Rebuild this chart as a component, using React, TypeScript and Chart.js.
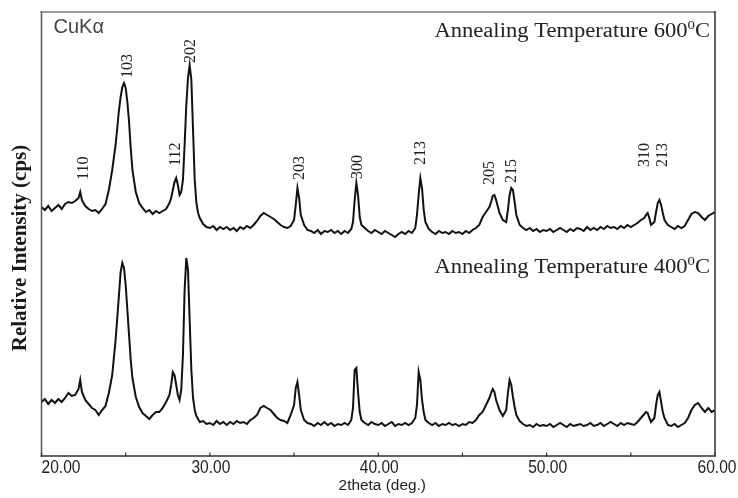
import React, { useEffect, useRef } from "react";
import { Chart, registerables } from "chart.js";
Chart.register(...registerables);

// 2theta (deg.) sampling positions
const twoTheta = [
  20.0, 20.2, 20.4, 20.6, 20.8,
  21.0, 21.2, 21.4, 21.6, 21.8,
  22.0, 22.2, 22.3, 22.4, 22.6, 22.8,
  23.0, 23.2, 23.4, 23.6, 23.8,
  24.0, 24.2, 24.4, 24.5, 24.6, 24.7, 24.8, 24.9,
  25.0, 25.1, 25.2, 25.3, 25.4, 25.6, 25.8,
  26.0, 26.2, 26.4, 26.6, 26.8,
  27.0, 27.2, 27.4, 27.6, 27.7, 27.8, 27.9,
  28.0, 28.1, 28.2, 28.3, 28.4, 28.5, 28.6, 28.7, 28.8, 28.9,
  29.0, 29.1, 29.2, 29.3, 29.4, 29.6, 29.8,
  30.0, 30.2, 30.4, 30.6, 30.8,
  31.0, 31.2, 31.4, 31.6, 31.8,
  32.0, 32.2, 32.4, 32.6, 32.8,
  33.0, 33.2, 33.4, 33.6, 33.8,
  34.0, 34.2, 34.4, 34.6, 34.8,
  35.0, 35.1, 35.2, 35.3, 35.4, 35.6, 35.8,
  36.0, 36.2, 36.4, 36.6, 36.8,
  37.0, 37.2, 37.4, 37.6, 37.8,
  38.0, 38.2, 38.4, 38.5, 38.6, 38.7, 38.8, 38.9,
  39.0, 39.2, 39.4, 39.6, 39.8,
  40.0, 40.2, 40.4, 40.6, 40.8,
  41.0, 41.2, 41.4, 41.6, 41.8,
  42.0, 42.2, 42.3, 42.4, 42.5, 42.6, 42.7, 42.8,
  43.0, 43.2, 43.4, 43.6, 43.8,
  44.0, 44.2, 44.4, 44.6, 44.8,
  45.0, 45.2, 45.4, 45.6, 45.8,
  46.0, 46.2, 46.4, 46.6, 46.7, 46.8, 46.9,
  47.0, 47.2, 47.4, 47.6, 47.7, 47.8, 47.9,
  48.0, 48.1, 48.2, 48.4, 48.6, 48.8,
  49.0, 49.2, 49.4, 49.6, 49.8,
  50.0, 50.2, 50.4, 50.6, 50.8,
  51.0, 51.2, 51.4, 51.6, 51.8,
  52.0, 52.2, 52.4, 52.6, 52.8,
  53.0, 53.2, 53.4, 53.6, 53.8,
  54.0, 54.2, 54.4, 54.6, 54.8,
  55.0, 55.2, 55.4, 55.6, 55.8, 55.9,
  56.0, 56.1, 56.2, 56.4, 56.5, 56.6, 56.7, 56.8, 56.9,
  57.0, 57.2, 57.4, 57.6, 57.8,
  58.0, 58.2, 58.4, 58.6, 58.8,
  59.0, 59.2, 59.4, 59.6, 59.8,
  60.0,
];

// Relative intensity, 600 °C anneal (offset trace)
const intensity600 = [
  249, 246, 250, 245, 248,
  251, 247, 252, 254, 253,
  255, 258, 264, 256, 250, 247,
  245, 246, 243, 247, 252,
  266, 286, 311, 328, 346, 359, 369, 373,
  368, 354, 334, 308, 286, 264, 253,
  248, 244, 246, 242, 245,
  243, 245, 247, 253, 258, 266, 274,
  278, 271, 261, 264, 276, 311, 351, 378, 391, 376,
  326, 276, 253, 243, 238, 232, 229,
  228, 230, 226, 229, 227,
  229, 226, 228, 225, 229,
  227, 230, 228, 231, 235,
  240, 243, 241, 239, 237,
  234, 231, 229, 228, 230,
  236, 251, 268, 258, 241, 231, 226,
  225, 223, 226, 222, 225,
  224, 226, 223, 225, 222,
  225, 223, 227, 234, 256, 273, 261, 239,
  231, 228, 225, 223, 226,
  224, 222, 225, 223, 221,
  219, 222, 224, 222, 225,
  223, 228, 241, 261, 278, 268, 246, 234,
  227, 224, 222, 225, 223,
  224, 222, 225, 223, 224,
  222, 225, 223, 226, 228,
  231, 239, 244, 249, 254, 260, 261,
  256, 243, 236, 234, 246, 261, 268,
  266, 254, 241, 231, 228, 226,
  228, 225, 227, 224, 226,
  225, 227, 224, 226, 228,
  226, 224, 227, 225, 228,
  227, 225, 229, 226, 228,
  226, 229, 227, 230, 228,
  229, 227, 230, 228, 231,
  229, 231, 233, 236, 238, 241,
  243, 238, 231, 234, 244, 253, 256, 251, 243,
  236, 231, 229, 227, 230,
  228, 230, 236, 242, 244,
  243, 239, 236, 240, 242,
  244,
];

// Relative intensity, 400 °C anneal
const intensity400 = [
  54, 57, 52, 56, 53,
  57, 54, 58, 63, 60,
  61, 67, 76, 64, 56, 52,
  48, 46, 41, 46, 50,
  63, 81, 116, 138, 161, 184, 193, 188,
  171, 146, 121, 96, 78, 59, 49,
  43, 40, 37, 41, 44,
  44, 48, 54, 61, 71, 84, 81,
  71, 61, 56, 66, 101, 166, 198, 186, 136, 86,
  58, 46, 40, 37, 34, 35, 32,
  33, 31, 35, 32, 34,
  31, 34, 32, 35, 33,
  34, 32, 36, 38, 41,
  48, 50, 48, 46, 42,
  38, 36, 35, 33, 41,
  51, 68, 74, 61, 46, 36, 33,
  32, 30, 33, 31, 34,
  31, 33, 30, 32, 31,
  33, 31, 36, 48, 86, 88, 64, 44,
  36, 33, 31, 34, 32,
  31, 33, 30, 32, 34,
  30, 32, 31, 33, 31,
  33, 38, 51, 84, 76, 56, 44, 36,
  33, 31, 33, 30, 32,
  31, 33, 31, 32, 30,
  32, 31, 34, 33, 36,
  41, 44, 51, 58, 63, 67, 64,
  56, 46, 40, 46, 63, 76, 71,
  59, 49, 41, 35, 32, 30,
  31, 29, 32, 30, 31,
  30, 32, 29, 31, 33,
  31, 29, 32, 30, 31,
  32, 30, 31, 33, 30,
  31, 33, 30, 32, 34,
  32, 30, 33, 31, 33,
  32, 31, 34, 38, 42, 44,
  43, 38, 34, 38, 51, 61, 64, 54, 44,
  38, 31, 30, 32, 29,
  31, 33, 38, 46, 51,
  53, 48, 44, 48, 44,
  46,
];

const xTicks = [20, 25, 30, 35, 40, 45, 50, 55, 60];
const xTickLabels = ["20.00", "30.00", "40.00", "50.00", "60.00"];
const xLabeledTicks = [20, 30, 40, 50, 60];

// Miller-index annotations: name, 2theta of label, intensity where label starts
const peakNames = ["110", "103", "112", "202", "203", "300", "213", "205", "215", "310", "213"];
const peakAngles = [22.51, 25.13, 27.98, 28.87, 35.33, 38.78, 42.52, 46.62, 47.93, 55.85, 56.88];
const peakLabelBase = [276, 378, 290, 393, 276, 277, 291, 271, 273, 289, 289];

const traceTitles = ["Annealing Temperature 600", "Annealing Temperature 400"];
const traceTitleValue = [419, 183];

const SERIF = '"Liberation Serif", "Times New Roman", serif';
const SANS = '"Liberation Sans", Arial, sans-serif';

function drawText(ctx: CanvasRenderingContext2D, s: string, px: number, py: number, font: string, align: CanvasTextAlign, color: string, sx = 1) {
  ctx.save();
  ctx.translate(px, py);
  ctx.scale(sx, 1);
  ctx.font = font;
  ctx.textAlign = align;
  ctx.textBaseline = "alphabetic";
  ctx.fillStyle = color;
  ctx.fillText(s, 0, 0);
  ctx.restore();
}

const decor = {
  id: "decor",
  afterDraw(chart: any) {
    const { ctx, chartArea: a, scales } = chart;
    const xs = scales.x;
    const ys = scales.y;
    ctx.save();
    // frame
    ctx.lineCap = "square";
    ctx.strokeStyle = "#9a9a9a";
    ctx.lineWidth = 2;
    ctx.beginPath();
    ctx.moveTo(a.left, a.top);
    ctx.lineTo(a.right, a.top);
    ctx.stroke();
    ctx.strokeStyle = "#555";
    ctx.lineWidth = 1.5;
    ctx.beginPath();
    ctx.moveTo(a.left, a.top);
    ctx.lineTo(a.left, a.bottom);
    ctx.stroke();
    ctx.strokeStyle = "#333";
    ctx.beginPath();
    ctx.moveTo(a.left, a.bottom);
    ctx.lineTo(a.right, a.bottom);
    ctx.lineTo(a.right, a.top);
    ctx.stroke();
    // inward ticks
    ctx.lineWidth = 1.2;
    xTicks.forEach((t) => {
      const px = xs.getPixelForValue(t);
      ctx.beginPath();
      ctx.moveTo(px, a.bottom);
      ctx.lineTo(px, a.bottom - 3);
      ctx.stroke();
    });
    // tick labels (condensed)
    xLabeledTicks.forEach((t, i) => {
      const px = xs.getPixelForValue(t);
      const last = i === xLabeledTicks.length - 1;
      const first = i === 0;
      drawText(ctx, xTickLabels[i], first ? px : last ? px + 2 : px + 1, a.bottom + 17, `19px ${SANS}`, first ? "left" : "center", "#222", 0.82);
    });
    // x title
    drawText(ctx, "2theta (deg.)", (a.left + a.right) / 2 + 4, a.bottom + 34, `14px ${SANS}`, "center", "#222", 1.1);
    // y title
    ctx.save();
    ctx.translate(26, 248);
    ctx.rotate(-Math.PI / 2);
    ctx.font = `bold 21px ${SERIF}`;
    ctx.textAlign = "center";
    ctx.textBaseline = "alphabetic";
    ctx.fillStyle = "#1a1a1a";
    ctx.fillText("Relative Intensity (cps)", 0, 0);
    ctx.restore();
    // CuKα
    drawText(ctx, "CuKα", a.left + 12, 33, `20px ${SANS}`, "left", "#444");
    // trace titles with superscript degree
    traceTitles.forEach((s, i) => {
      const base = ys.getPixelForValue(traceTitleValue[i]);
      const sx = 1.13;
      const mainFont = `20px ${SERIF}`;
      const supFont = `13px ${SERIF}`;
      ctx.font = mainFont;
      const wMain = ctx.measureText(s).width * sx;
      const wC = ctx.measureText("C").width * sx;
      ctx.font = supFont;
      const wSup = ctx.measureText("0").width * sx;
      const right = a.right - 5;
      const start = right - wMain - wSup - wC;
      drawText(ctx, s, start, base, mainFont, "left", "#222", sx);
      drawText(ctx, "0", start + wMain, base - 8, supFont, "left", "#222", sx);
      drawText(ctx, "C", start + wMain + wSup, base, mainFont, "left", "#222", sx);
    });
    // peak labels
    peakNames.forEach((n, i) => {
      const px = xs.getPixelForValue(peakAngles[i]);
      const py = ys.getPixelForValue(peakLabelBase[i]);
      ctx.save();
      ctx.translate(px, py);
      ctx.rotate(-Math.PI / 2);
      ctx.font = `16px ${SERIF}`;
      ctx.textAlign = "left";
      ctx.textBaseline = "middle";
      ctx.fillStyle = "#222";
      ctx.fillText(n, 0, 0);
      ctx.restore();
    });
    ctx.restore();
  },
};

export default function App() {
  const ref = useRef<HTMLCanvasElement | null>(null);
  useEffect(() => {
    if (!ref.current) return;
    const chart = new Chart(ref.current, {
      type: "line",
      data: {
        datasets: [
          {
            label: "600",
            data: twoTheta.map((t, i) => ({ x: t, y: intensity600[i] })),
            borderColor: "#111",
            borderWidth: 2,
            pointRadius: 0,
            tension: 0,
            fill: false,
          },
          {
            label: "400",
            data: twoTheta.map((t, i) => ({ x: t, y: intensity400[i] })),
            borderColor: "#111",
            borderWidth: 2,
            pointRadius: 0,
            tension: 0,
            fill: false,
          },
        ],
      },
      options: {
        animation: false,
        responsive: false,
        devicePixelRatio: 1,
        layout: { padding: { left: 41.5, right: 23, top: 12, bottom: 42 } },
        plugins: { legend: { display: false }, tooltip: { enabled: false } },
        scales: {
          x: { type: "linear", min: 20, max: 60, display: false },
          y: { type: "linear", min: 0, max: 444, display: false },
        },
      },
      plugins: [decor],
    } as any);
    return () => chart.destroy();
  }, []);
  return (
    <div style={{ position: "fixed", left: 0, top: 0, width: 738, height: 498, background: "#fff" }}>
      <canvas ref={ref} width={738} height={498} style={{ display: "block" }} />
    </div>
  );
}
